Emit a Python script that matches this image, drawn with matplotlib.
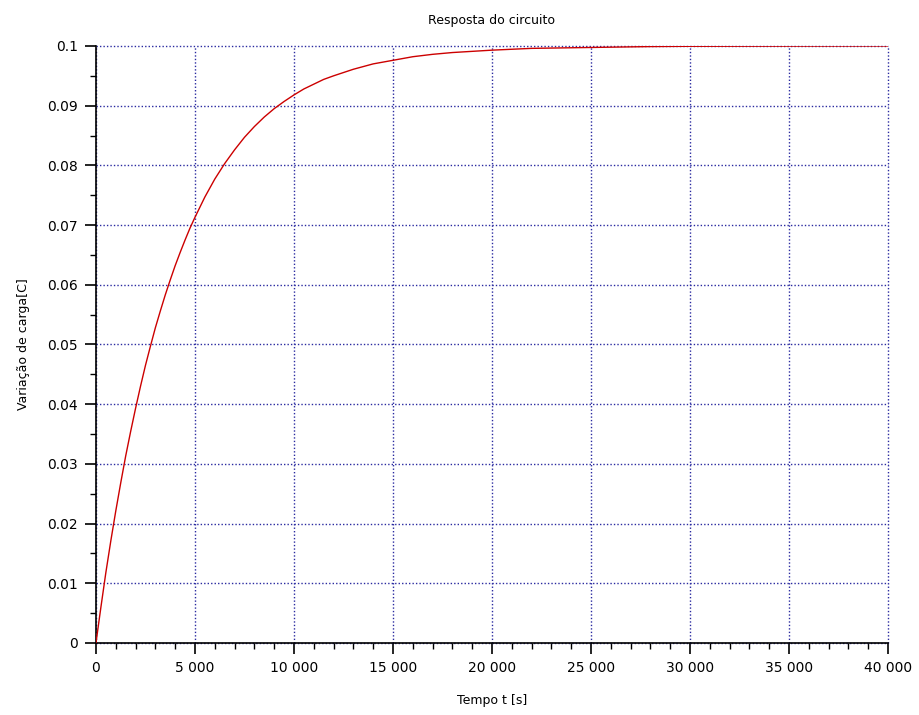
import matplotlib
matplotlib.use("Agg")
import matplotlib.pyplot as plt
from matplotlib.ticker import FuncFormatter, MultipleLocator

# values
tempo = [0, 250, 500, 750, 1000, 1250, 1500, 1750, 2000, 2250, 2500, 2750,
         3000, 3250, 3500, 3750, 4000, 4250, 4500, 4750, 5000, 5500, 6000,
         6500, 7000, 7500, 8000, 8500, 9000, 9500, 10000, 10500, 11000,
         11500, 12000, 13000, 14000, 15000, 16000, 17000, 18000, 19000,
         20000, 22000, 24000, 26000, 28000, 30000, 35000, 40000]
carga = [0.0, 0.0060, 0.0118, 0.0171, 0.0221, 0.0268, 0.0313, 0.0354, 0.0393,
         0.0430, 0.0465, 0.0497, 0.0528, 0.0556, 0.0583, 0.0608, 0.0632,
         0.0654, 0.0675, 0.0695, 0.0713, 0.0747, 0.0777, 0.0803, 0.0826,
         0.0847, 0.0865, 0.0881, 0.0895, 0.0907, 0.0918, 0.0928, 0.0936,
         0.0944, 0.0950, 0.0961, 0.0970, 0.0976, 0.0982, 0.0986, 0.0989,
         0.0991, 0.0993, 0.0996, 0.0997, 0.0998, 0.0999, 0.09995, 0.09998,
         0.1]

fig = plt.figure(figsize=(9.2, 7.15), dpi=100)
ax = fig.add_axes([0.1043, 0.1007, 0.8609, 0.835])

ax.plot(tempo, carga, color="#cc0000", linewidth=1.0, zorder=3)

ax.set_xlim(0, 40000)
ax.set_ylim(0, 0.1)
ax.xaxis.set_major_locator(MultipleLocator(5000))
ax.xaxis.set_minor_locator(MultipleLocator(1000))
ax.yaxis.set_major_locator(MultipleLocator(0.01))
ax.yaxis.set_minor_locator(MultipleLocator(0.005))
ax.xaxis.set_major_formatter(FuncFormatter(lambda v, p: f"{int(v):,}".replace(",", " ")))
ax.yaxis.set_major_formatter(FuncFormatter(lambda v, p: "0" if v == 0 else f"{v:.2f}".rstrip("0")))

ax.grid(True, which="major", color="#2a2aa0", linestyle=(0, (1, 1.5)), linewidth=1.0)
ax.spines["top"].set_visible(False)
ax.spines["right"].set_visible(False)
for s in ("left", "bottom"):
    ax.spines[s].set_linewidth(1.2)
ax.tick_params(which="major", direction="out", length=8, width=1.2, labelsize=10, pad=5)
ax.tick_params(which="minor", direction="out", length=4, width=1.0)

ax.set_title("Resposta do circuito", fontsize=9, pad=16)
ax.set_xlabel("Tempo t [s]", fontsize=9, labelpad=14)
ax.set_ylabel("Variação de carga[C]", fontsize=9, labelpad=12)

# keep the edge grid lines (top and right) fully visible
fig.canvas.draw()
for gl in ax.get_xgridlines() + ax.get_ygridlines():
    gl.set_clip_on(False)

fig.savefig("out.png", dpi=100)
